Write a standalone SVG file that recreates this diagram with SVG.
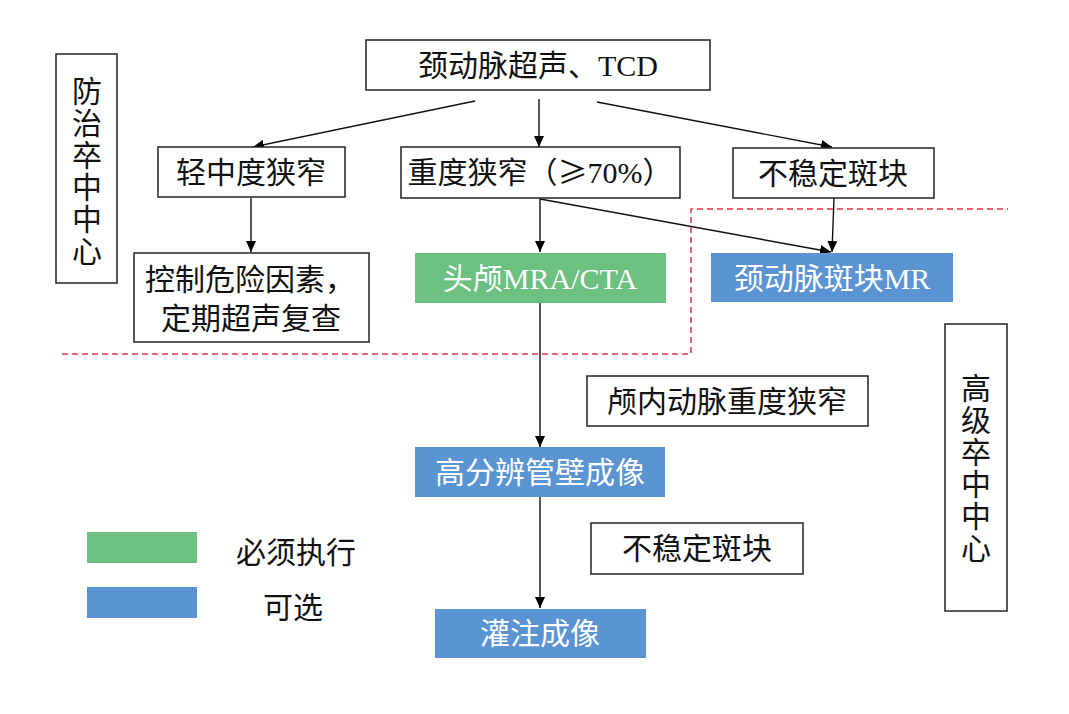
<svg xmlns="http://www.w3.org/2000/svg" width="1069" height="714" viewBox="0 0 1069 714">
<defs>
<marker id="ah" markerUnits="userSpaceOnUse" markerWidth="12" markerHeight="10" refX="11" refY="5" orient="auto">
<path d="M0,0 L11,5 L0,10 Z" fill="#000"/>
</marker>
<style>
.box{fill:#fff;stroke:#222;stroke-width:1.5}
.g{fill:#6cc080}
.b{fill:#5b94d3}
.t{font-family:"Liberation Serif","Noto Sans CJK SC",serif;font-size:30px;fill:#111;text-anchor:middle}
.cjk{font-family:"Noto Sans CJK SC",sans-serif}
.w{fill:#fff}
.line{stroke:#111;stroke-width:1.4;fill:none;marker-end:url(#ah)}
.dash{stroke:#e03048;stroke-width:1.5;fill:none;stroke-dasharray:6,4}
</style>
</defs>
<rect width="1069" height="714" fill="#fff"/>

<g id="connectors">
<line class="line" x1="475" y1="101" x2="253" y2="147"/>
<line class="line" x1="539" y1="99" x2="539" y2="147"/>
<line class="line" x1="597" y1="102" x2="832" y2="147"/>
<line class="line" x1="251" y1="198" x2="251" y2="252"/>
<line class="line" x1="540" y1="199" x2="540" y2="252"/>
<line class="line" x1="540" y1="199" x2="831" y2="252"/>
<line class="line" x1="834" y1="198" x2="832" y2="252"/>
<line class="line" x1="540" y1="303" x2="540" y2="447"/>
<line class="line" x1="540" y1="497" x2="540" y2="608"/>
</g>

<g id="zones">
<polyline class="dash" points="62,354 691,354 691,209 1008,209"/>
</g>

<g id="n-left">
<rect class="box" x="56" y="54" width="61" height="229"/>
<text class="t" x="87" y="102">防</text>
<text class="t" x="87" y="134">治</text>
<text class="t" x="87" y="166">卒</text>
<text class="t" x="87" y="198">中</text>
<text class="t" x="87" y="230">中</text>
<text class="t" x="87" y="262">心</text>
</g>

<g id="n-right">
<rect class="box" x="945" y="324" width="62" height="287"/>
<text class="t" x="976" y="399">高</text>
<text class="t" x="976" y="431">级</text>
<text class="t" x="976" y="463">卒</text>
<text class="t" x="976" y="495">中</text>
<text class="t" x="976" y="527">中</text>
<text class="t" x="976" y="559">心</text>
</g>

<g id="n-top">
<rect class="box" x="366" y="40" width="344" height="50"/>
<text class="t" x="538" y="76">颈动脉超声、TCD</text>
</g>

<g id="n-mild">
<rect class="box" x="158" y="147" width="187" height="50"/>
<text class="t" x="251" y="183">轻中度狭窄</text>
</g>

<g id="n-severe">
<rect class="box" x="401" y="147" width="279" height="51"/>
<text class="t" x="540" y="183">重度狭窄（<tspan class="cjk">≥</tspan>70%）</text>
</g>

<g id="n-unstable">
<rect class="box" x="733" y="148" width="201" height="50"/>
<text class="t" x="833" y="184">不稳定斑块</text>
</g>

<g id="n-control">
<rect class="box" x="134" y="253" width="235" height="89"/>
<text class="t" x="250" y="290">控制危险因素，</text>
<text class="t" x="251" y="329">定期超声复查</text>
</g>

<g id="n-mra">
<rect class="g" x="415" y="253" width="251" height="50"/>
<text class="t w" x="540" y="289">头颅MRA/CTA</text>
</g>

<g id="n-mr">
<rect class="b" x="711" y="253" width="242" height="49"/>
<text class="t w" x="832" y="289">颈动脉斑块MR</text>
</g>

<g id="n-intracranial">
<rect class="box" x="587" y="376" width="281" height="50"/>
<text class="t" x="727" y="412">颅内动脉重度狭窄</text>
</g>

<g id="n-hr">
<rect class="b" x="415" y="447" width="250" height="50"/>
<text class="t w" x="540" y="483">高分辨管壁成像</text>
</g>

<g id="n-unstable2">
<rect class="box" x="591" y="523" width="212" height="51"/>
<text class="t" x="697" y="559">不稳定斑块</text>
</g>

<g id="n-perf">
<rect class="b" x="435" y="609" width="211" height="49"/>
<text class="t w" x="540" y="644">灌注成像</text>
</g>

<g id="legend">
<rect class="g" x="87" y="532" width="110" height="31"/>
<rect class="b" x="87" y="587" width="110" height="31"/>
<text class="t" x="296" y="563">必须执行</text>
<text class="t" x="293" y="618">可选</text>
</g>
</svg>
